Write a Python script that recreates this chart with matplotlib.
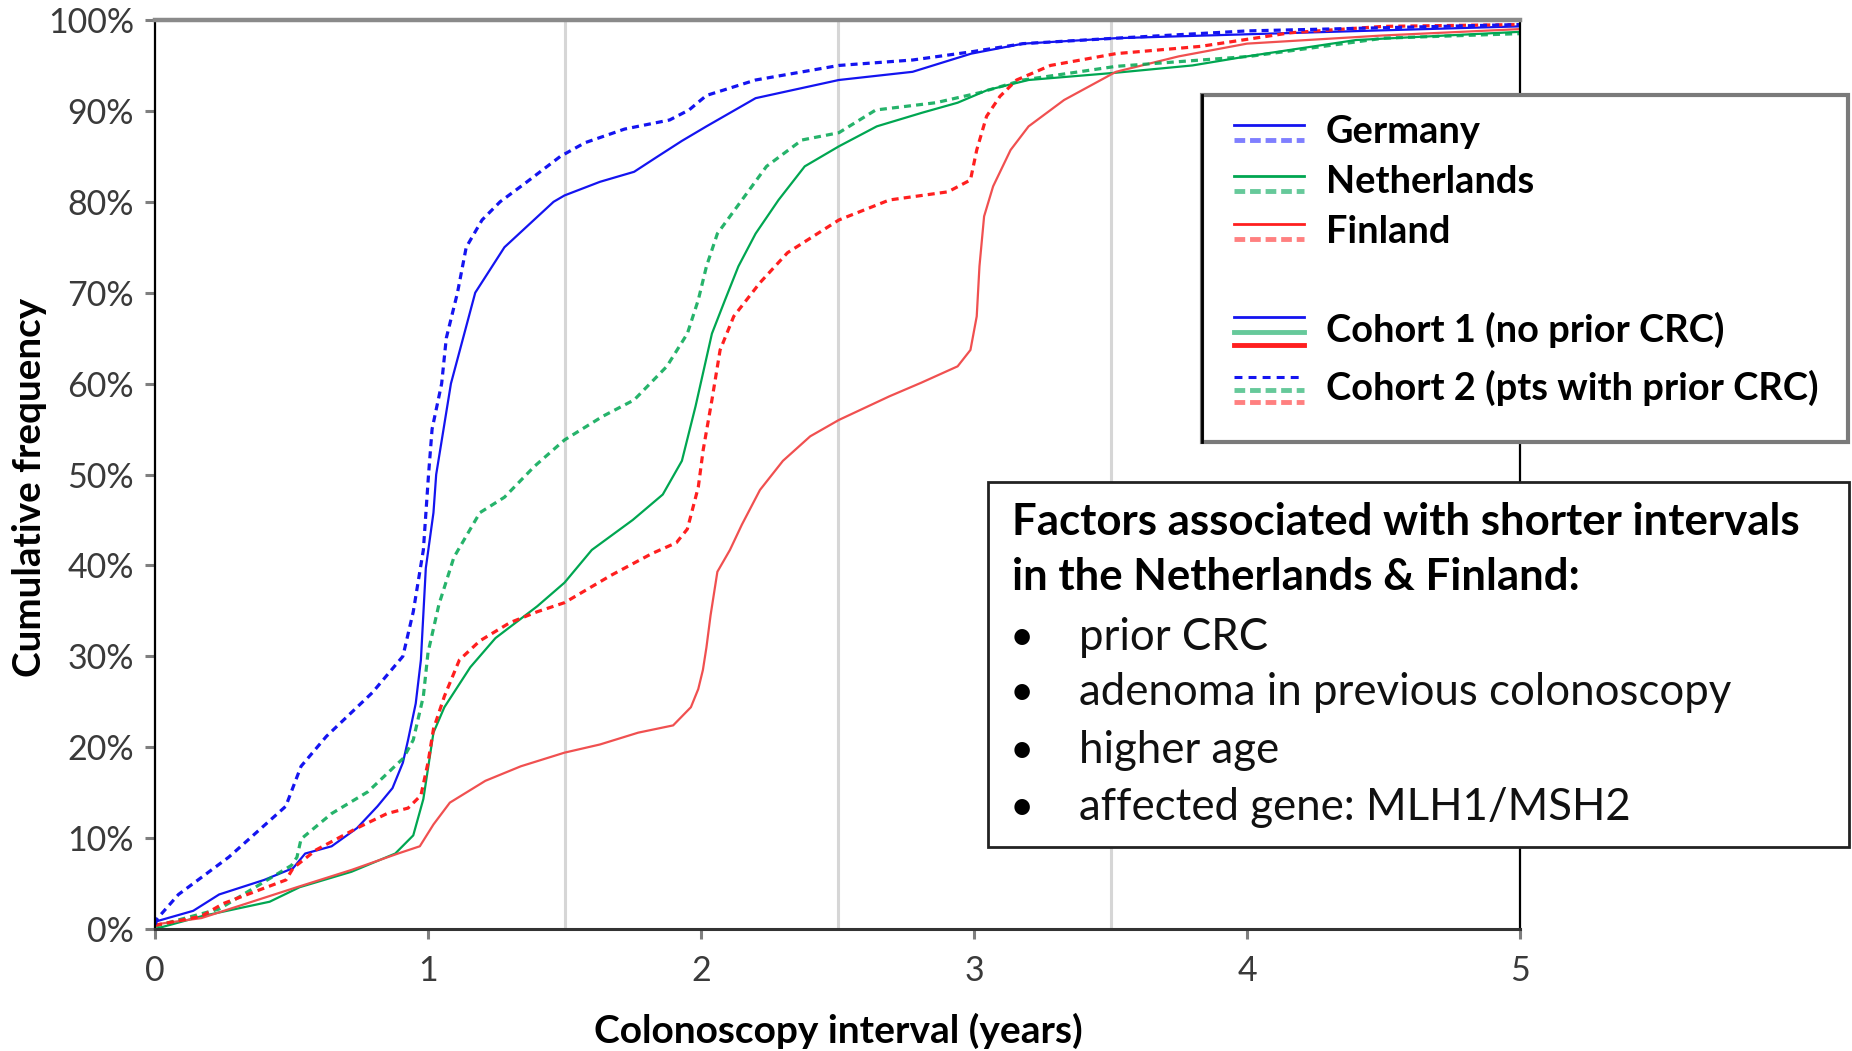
import matplotlib
matplotlib.use("Agg")
import matplotlib.pyplot as plt
from matplotlib.patches import Rectangle
from matplotlib.ticker import PercentFormatter

plt.rcParams['font.family'] = ['Lato', 'DejaVu Sans']

# cumulative frequency (%) vs colonoscopy interval (years)
de_c1_x = [0, 0.14, 0.235, 0.40, 0.506, 0.55, 0.647, 0.74, 0.815, 0.87, 0.908, 0.927, 0.955, 0.974,
           0.992, 1.02, 1.03, 1.084, 1.173, 1.28, 1.46, 1.50, 1.63, 1.755, 1.842, 1.93, 2.02, 2.20,
           2.505, 2.775, 2.99, 3.18, 3.52, 4.08, 5.0]
de_c1_y = [0.8, 2.0, 3.8, 5.4, 6.7, 8.3, 9.1, 11.1, 13.5, 15.5, 18.3, 20.8, 24.8, 29.6,
           39.7, 45.8, 50, 60, 70, 75, 80, 80.7, 82.2, 83.3, 85.0, 86.7, 88.3, 91.4,
           93.4, 94.3, 96.3, 97.4, 98.0, 98.5, 99.3]

de_c2_x = [0, 0.01, 0.086, 0.27, 0.479, 0.535, 0.628, 0.796, 0.908, 0.946, 0.983, 1.002, 1.015,
           1.05, 1.067, 1.108, 1.14, 1.198, 1.264, 1.354, 1.485, 1.575, 1.72, 1.885, 1.956, 2.02,
           2.2, 2.505, 2.775, 2.99, 3.18, 3.52, 4.0, 5.0]
de_c2_y = [0.5, 1.2, 3.8, 7.9, 13.5, 17.9, 21.2, 26, 30, 34.9, 41.7, 50, 55,
           60, 65, 70, 75, 78, 80, 82, 85, 86.5, 88, 89, 90.1, 91.7,
           93.4, 95.0, 95.6, 96.5, 97.4, 98.0, 98.8, 99.5]

nl_c1_x = [0, 0.17, 0.42, 0.53, 0.72, 0.88, 0.946, 0.983, 1.02, 1.06, 1.155, 1.247, 1.40, 1.50,
           1.60, 1.75, 1.86, 1.93, 1.98, 2.04, 2.088, 2.137, 2.2, 2.284, 2.38, 2.505, 2.644, 2.81,
           2.94, 3.05, 3.2, 3.52, 3.8, 4.0, 4.4, 5.0]
nl_c1_y = [0, 1.4, 3.0, 4.6, 6.3, 8.3, 10.3, 14.3, 21.6, 24.4, 28.8, 32, 35.5, 38.1,
           41.7, 45, 47.8, 51.5, 57.5, 65.5, 69.2, 72.9, 76.5, 80.2, 83.9, 86.1, 88.3, 89.8,
           90.9, 92.3, 93.4, 94.2, 95.0, 96.0, 97.8, 98.7]

nl_c2_x = [0, 0.235, 0.50, 0.52, 0.535, 0.647, 0.78, 0.91, 0.946, 0.983, 1.0, 1.04, 1.095, 1.19,
           1.28, 1.39, 1.50, 1.64, 1.755, 1.875, 1.95, 1.99, 2.02, 2.06, 2.15, 2.24, 2.37, 2.505,
           2.64, 2.86, 3.02, 3.18, 3.52, 4.01, 4.5, 5.0]
nl_c2_y = [0.3, 2.2, 7.0, 7.9, 9.9, 12.7, 15.1, 18.8, 20.8, 25.6, 30.4, 35.7, 40.9, 45.8,
           47.5, 50.9, 53.8, 56.4, 58.2, 61.9, 65.5, 69.2, 72.9, 76.5, 80.2, 83.9, 86.8, 87.6,
           90.1, 90.9, 92.0, 93.4, 94.9, 96.0, 98.0, 98.5]

fi_c1_x = [0, 0.17, 0.52, 0.72, 0.89, 0.97, 1.02, 1.08, 1.21, 1.34, 1.50, 1.63, 1.77, 1.898,
           1.963, 1.99, 2.007, 2.02, 2.035, 2.06, 2.106, 2.15, 2.216, 2.30, 2.40, 2.505, 2.69,
           2.807, 2.94, 2.987, 3.01, 3.02, 3.037, 3.07, 3.134, 3.2, 3.33, 3.52, 3.75, 4.0, 4.5, 5.0]
fi_c1_y = [0.5, 1.2, 4.6, 6.5, 8.3, 9.1, 11.5, 13.9, 16.3, 17.9, 19.4, 20.3, 21.6, 22.4,
           24.4, 26.4, 28.5, 31, 34.5, 39.3, 41.7, 44.5, 48.3, 51.5, 54.2, 56, 58.6,
           60.1, 61.9, 63.7, 67.4, 72.9, 78.4, 81.7, 85.7, 88.3, 91.2, 94.3, 96.0, 97.4, 98.3, 99.0]

fi_c2_x = [0, 0.17, 0.25, 0.48, 0.506, 0.59, 0.74, 0.85, 0.927, 0.974, 1.0, 1.02, 1.06, 1.115,
           1.19, 1.30, 1.40, 1.50, 1.67, 1.82, 1.91, 1.95, 1.99, 2.008, 2.04, 2.07, 2.12, 2.216,
           2.317, 2.505, 2.69, 2.905, 2.987, 3.01, 3.046, 3.095, 3.156, 3.28, 3.52, 3.83, 4.16,
           4.5, 5.0]
fi_c2_y = [0.4, 1.4, 2.8, 5.4, 6.7, 8.7, 11.1, 12.7, 13.3, 14.7, 18.3, 22, 25.6, 29.6,
           31.7, 33.7, 34.9, 35.9, 38.9, 41.3, 42.5, 44, 48.6, 52.7, 58.2, 63.7, 67.4, 71.1,
           74.4, 78, 80.2, 81.1, 82.4, 85.7, 89.4, 91.6, 93.4, 95.0, 96.3, 97.1, 98.6,
           99.3, 99.5]

grid_x = [1.5, 2.5, 3.5]

countries = ['Germany', 'Netherlands', 'Finland']
cohorts = ['Cohort 1 (no prior CRC)', 'Cohort 2 (pts with prior CRC)']
factors_title = ['Factors associated with shorter intervals', 'in the Netherlands & Finland:']
factors = ['prior CRC', 'adenoma in previous colonoscopy', 'higher age', 'affected gene: MLH1/MSH2']

BLUE = '#1414f0'
GREEN = '#00a651'
RED = '#ff1f1f'
RED_SOLID = '#f05050'
LBLUE = '#7f7fff'
LGREEN = '#66c99a'
LRED = '#ff8080'

W, H = 1852, 1051
fig = plt.figure(figsize=(W / 100, H / 100), dpi=100)
ax = fig.add_axes([155 / W, 1 - 929 / H, 1365 / W, 909 / H])

for gx in grid_x:
    ax.axvline(gx, color='#d6d6d6', lw=2.2, zorder=0)

dash = (0, (2.2, 1.6))
ax.plot(nl_c1_x, nl_c1_y, color=GREEN, lw=1.6)
ax.plot(fi_c1_x, fi_c1_y, color=RED_SOLID, lw=1.6)
ax.plot(de_c1_x, de_c1_y, color=BLUE, lw=1.6)
ax.plot(nl_c2_x, nl_c2_y, color=GREEN, lw=2.3, ls=dash, alpha=0.85)
ax.plot(fi_c2_x, fi_c2_y, color=RED, lw=2.3, ls=dash)
ax.plot(de_c2_x, de_c2_y, color=BLUE, lw=2.3, ls=dash)

ax.set_xlim(0, 5)
ax.set_ylim(0, 100)
ax.set_xticks(range(6))
ax.set_yticks(range(0, 101, 10))
ax.yaxis.set_major_formatter(PercentFormatter(decimals=0))
ax.tick_params(axis='both', direction='out', length=7, width=2.2, color='#7f7f7f',
               labelsize=24.5, labelcolor='#3a3a3a')
ax.tick_params(axis='y', pad=8)
ax.tick_params(axis='x', pad=12)

ax.spines['top'].set_color('#8a8a8a')
ax.spines['top'].set_linewidth(3.2)
ax.spines['left'].set_color('black')
ax.spines['left'].set_linewidth(1.6)
ax.spines['bottom'].set_color('#333333')
ax.spines['bottom'].set_linewidth(2.2)
ax.spines['right'].set_color('black')
ax.spines['right'].set_linewidth(1.6)

fig.text(838 / W, 1 - 1031 / H, 'Colonoscopy interval (years)', ha='center', va='center',
         fontsize=28, fontweight='bold')
fig.text(30 / W, 1 - 487 / H, 'Cumulative frequency', ha='center', va='center',
         rotation=90, fontsize=27.8, fontweight='bold')

# legend boxes drawn in pixel coordinates on an overlay
ov = fig.add_axes([0, 0, 1, 1], zorder=5)
ov.set_xlim(0, W)
ov.set_ylim(H, 0)
ov.axis('off')

ov.add_patch(Rectangle((1202, 95), 646, 347, facecolor='white', edgecolor='#7a7a7a', lw=3))
ov.plot([1202, 1202], [95, 442], color='black', lw=2)
lx = [1234, 1304]
pairs = [(BLUE, LBLUE, 125, 140, 143), (GREEN, LGREEN, 176, 191, 193), (RED, LRED, 224, 239, 243)]
for name, (c_s, c_d, ys, yd, yt) in zip(countries, pairs):
    ov.plot(lx, [ys, ys], color=c_s, lw=2)
    ov.plot(lx, [yd, yd], color=c_d, lw=3.5, ls=(0, (2.2, 1.0)))
    ov.text(1326, yt, name, fontsize=27.4, fontweight='bold', va='baseline')

ov.plot(lx, [317, 317], color=BLUE, lw=2)
ov.plot(lx, [332, 332], color=LGREEN, lw=3.5)
ov.plot(lx, [345, 345], color=RED, lw=3.5)
ov.text(1326, 342, cohorts[0], fontsize=27.4, fontweight='bold', va='baseline')
ov.plot(lx, [377, 377], color=BLUE, lw=2.2, ls=(0, (2.6, 2.0)))
ov.plot(lx, [390, 390], color=LGREEN, lw=3.5, ls=(0, (2.2, 1.0)))
ov.plot(lx, [402, 402], color=LRED, lw=3.5, ls=(0, (2.2, 1.0)))
ov.text(1326, 400, cohorts[1], fontsize=27.4, fontweight='bold', va='baseline')

ov.add_patch(Rectangle((988, 482), 861, 365, facecolor='white', edgecolor='#222222', lw=2))
for line, yb in zip(factors_title, [535, 590]):
    ov.text(1012, yb, line, fontsize=31.5, fontweight='bold', va='baseline')
for item, yb in zip(factors, [650, 705, 763, 820]):
    ov.text(1010, yb, '\u2022', fontsize=30, va='baseline')
    ov.text(1079, yb, item, fontsize=31.5, va='baseline', color='#111111')

fig.savefig('out.png', dpi=100)
